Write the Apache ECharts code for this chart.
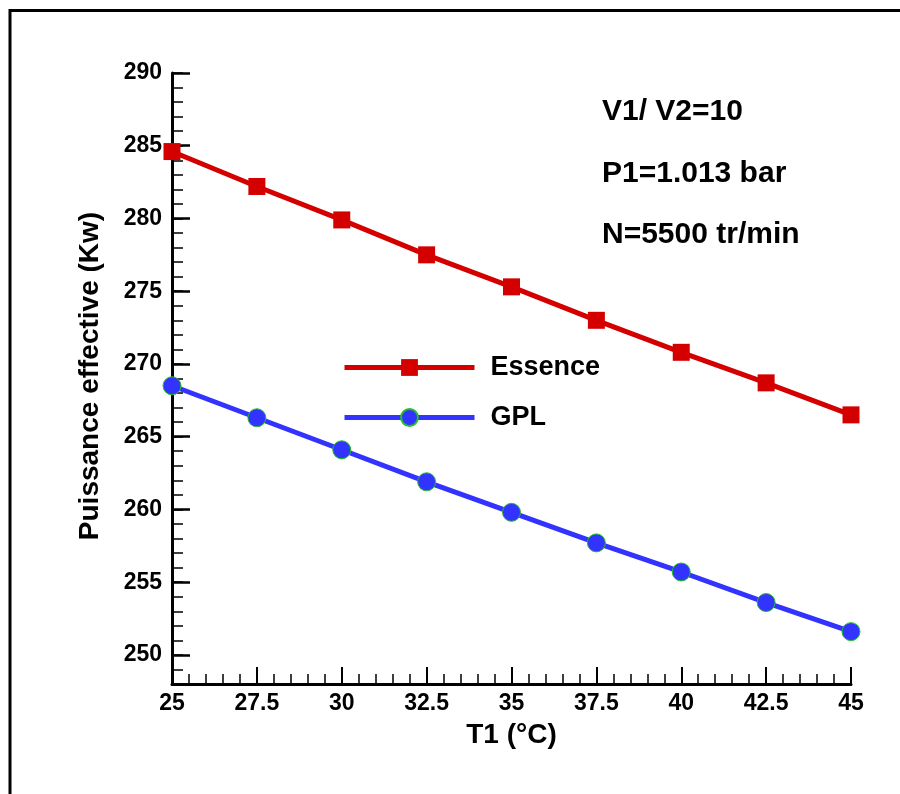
<!DOCTYPE html>
<html>
<head>
<meta charset="utf-8">
<script src="https://cdn.jsdelivr.net/npm/echarts@6/dist/echarts.min.js"></script>
<style>
html,body{margin:0;padding:0;background:#fff;}
#chart{width:900px;height:794px;}
</style>
</head>
<body>
<div id="chart"></div>
<script>
// ---- data ----
var temperatures = [25, 27.5, 30, 32.5, 35, 37.5, 40, 42.5, 45];
var essenceValues = [284.6, 282.2, 279.9, 277.5, 275.3, 273.0, 270.8, 268.7, 266.5];
var gplValues = [268.5, 266.3, 264.1, 261.9, 259.8, 257.7, 255.7, 253.6, 251.6];
var yMajorTicks = [250, 255, 260, 265, 270, 275, 280, 285, 290];
var seriesNames = ['Essence', 'GPL'];
var annotations = ['V1/ V2=10', 'P1=1.013 bar', 'N=5500 tr/min'];
var xAxisTitle = 'T1 (°C)';
var yAxisTitle = 'Puissance effective (Kw)';

var FONT = '"Liberation Sans", Arial, sans-serif';

function pairs(xs, ys) { return xs.map(function (x, i) { return [x, ys[i]]; }); }

var chart = echarts.init(document.getElementById('chart'), null, { renderer: 'canvas' });

var option = {
  backgroundColor: '#fff',
  animation: false,
  textStyle: { fontFamily: FONT },
  grid: { left: 172, right: 49, top: 73, bottom: 110, containLabel: false },
  legend: {
    orient: 'vertical',
    left: 337,
    top: 349,
    itemWidth: 130,
    itemHeight: 21,
    itemGap: 23,
    data: seriesNames,
    lineStyle: { width: 5 },
    textStyle: { fontFamily: FONT, fontSize: 27, fontWeight: 'bold', color: '#000', padding: [0, 0, 0, 11] }
  },
  xAxis: {
    type: 'value',
    min: 25, max: 45, interval: 2.5,
    name: xAxisTitle,
    nameLocation: 'middle',
    nameGap: 37,
    nameTextStyle: { fontFamily: FONT, fontSize: 28, fontWeight: 'bold', color: '#000' },
    axisLine: { show: true, onZero: false, lineStyle: { color: '#000', width: 3 } },
    axisTick: { show: true, inside: true, length: 17, lineStyle: { color: '#000', width: 2 } },
    minorTick: { show: true, splitNumber: 5, length: 10, lineStyle: { color: '#000', width: 1.5 } },
    axisLabel: { margin: 8, fontFamily: FONT, fontSize: 23, fontWeight: 'bold', color: '#000' },
    splitLine: { show: false },
    minorSplitLine: { show: false }
  },
  yAxis: [
    {
      type: 'value',
      min: 248, max: 290, interval: 1,
      position: 'left',
      axisLine: { show: true, onZero: false, lineStyle: { color: '#000', width: 3 } },
      axisTick: { show: true, inside: true, length: 11, lineStyle: { color: '#000', width: 1.5 } },
      axisLabel: { show: false },
      splitLine: { show: false }
    },
    {
      type: 'value',
      min: 248, max: 290,
      position: 'left',
      name: yAxisTitle,
      nameLocation: 'middle',
      nameRotate: 90,
      nameGap: 68,
      nameTextStyle: { fontFamily: FONT, fontSize: 28, fontWeight: 'bold', color: '#000', padding: [0, 0, 0, 5] },
      axisLine: { show: false, onZero: false },
      axisTick: { show: true, inside: true, length: 18, customValues: yMajorTicks, lineStyle: { color: '#000', width: 2.5 } },
      axisLabel: { show: true, margin: 10, customValues: yMajorTicks, fontFamily: FONT, fontSize: 23, fontWeight: 'bold', color: '#000' },
      splitLine: { show: false }
    }
  ],
  series: [
    {
      name: seriesNames[0],
      type: 'line',
      yAxisIndex: 0,
      data: pairs(temperatures, essenceValues),
      symbol: 'rect',
      symbolSize: 17,
      showAllSymbol: true,
      lineStyle: { color: '#d40000', width: 5 },
      itemStyle: { color: '#d40000', borderWidth: 0 },
      emphasis: { disabled: true },
      z: 3
    },
    {
      name: seriesNames[1],
      type: 'line',
      yAxisIndex: 0,
      data: pairs(temperatures, gplValues),
      symbol: 'circle',
      symbolSize: 18,
      showAllSymbol: true,
      lineStyle: { color: '#3333ff', width: 5 },
      itemStyle: { color: '#3333ff', borderColor: '#22c022', borderWidth: 1 },
      emphasis: { disabled: true },
      z: 3
    }
  ],
  graphic: [
    { type: 'rect', silent: true, shape: { x: 10, y: 10.5, width: 1000, height: 1000 },
      style: { fill: 'none', stroke: '#000', lineWidth: 3 } },
    { type: 'text', left: 602, top: 97, silent: true,
      style: { text: annotations[0], font: 'bold 30px ' + FONT, fill: '#000' } },
    { type: 'text', left: 602, top: 159, silent: true,
      style: { text: annotations[1], font: 'bold 30px ' + FONT, fill: '#000' } },
    { type: 'text', left: 602, top: 220, silent: true,
      style: { text: annotations[2], font: 'bold 30px ' + FONT, fill: '#000' } }
  ]
};

chart.setOption(option);
</script>
</body>
</html>
